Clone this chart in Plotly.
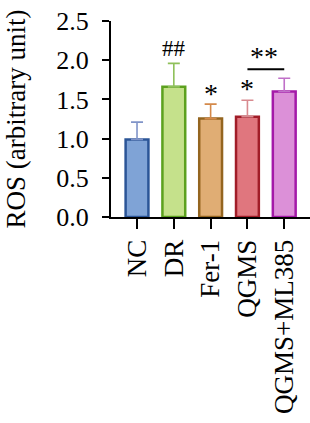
import plotly.graph_objects as go

categories = ["NC", "DR", "Fer-1", "QGMS", "QGMS+ML385"]
means = [0.99, 1.66, 1.255, 1.28, 1.60]
errors = [0.22, 0.30, 0.185, 0.21, 0.17]
fill_colors = ["#7fa3d6", "#c5e18b", "#e0ad74", "#e0767e", "#dc90d8"]
line_colors = ["#2b5597", "#5ca11e", "#94651f", "#a11d28", "#a41aa8"]
err_colors = ["#8094c8", "#8fc05a", "#d4894a", "#d88a8f", "#c070c8"]
sig_labels = ["", "##", "*", "*", ""]
sig_y = [None, 2.15, 1.57, 1.645, None]
bracket_y = 1.885
bracket_label_y = 2.05
y_ticks = [0.0, 0.5, 1.0, 1.5, 2.0, 2.5]

FONT = "Liberation Serif"

fig = go.Figure()
for i, c in enumerate(categories):
    fig.add_trace(go.Bar(
        x=[i], y=[means[i]],
        width=0.62,
        marker=dict(color=fill_colors[i], line=dict(color=line_colors[i], width=2.5)),
        error_y=dict(type="data", array=[errors[i]], arrayminus=[0], symmetric=False,
                     color=err_colors[i], thickness=1.6, width=6),
        showlegend=False,
    ))

for i, s in enumerate(sig_labels):
    if s:
        fig.add_annotation(x=i, y=sig_y[i], text=s, showarrow=False,
                           yanchor="middle",
                           font=dict(family=FONT, size=23 if s.startswith("#") else 28,
                                     color="black"))

# bracket between QGMS and QGMS+ML385
fig.add_shape(type="line", x0=3, x1=4, y0=bracket_y, y1=bracket_y, xref="x", yref="y",
              line=dict(color="black", width=2))
fig.add_annotation(x=3.45, y=bracket_label_y, text="**", showarrow=False, yanchor="middle",
                   font=dict(family=FONT, size=28, color="black"))

fig.update_layout(
    width=310, height=423,
    margin=dict(l=111, r=0, t=21, b=206),
    plot_bgcolor="white", paper_bgcolor="white",
    bargap=0.3,
    font=dict(family=FONT, size=26, color="black"),
)
fig.update_xaxes(
    range=[-0.707, 4.70],
    tickmode="array", tickvals=list(range(len(categories))), ticktext=categories,
    tickangle=-90, ticks="outside", ticklen=10, tickwidth=1.8, tickcolor="black",
    showline=True, linecolor="black", linewidth=2, showgrid=False, zeroline=False,
    tickfont=dict(family=FONT, size=27, color="black"),
)
fig.update_yaxes(
    range=[0, 2.5],
    tickmode="array", tickvals=y_ticks, ticktext=[f"{v:.1f}" for v in y_ticks],
    ticks="outside", ticklen=7, tickwidth=1.8, tickcolor="black",
    ticklabelstandoff=8,
    showline=True, linecolor="black", linewidth=2, showgrid=False, zeroline=False,
    tickfont=dict(family=FONT, size=26, color="black"),
    title=dict(text="ROS (arbitrary unit)", font=dict(family=FONT, size=27, color="black"), standoff=23),
)

fig.write_html("out.html")
